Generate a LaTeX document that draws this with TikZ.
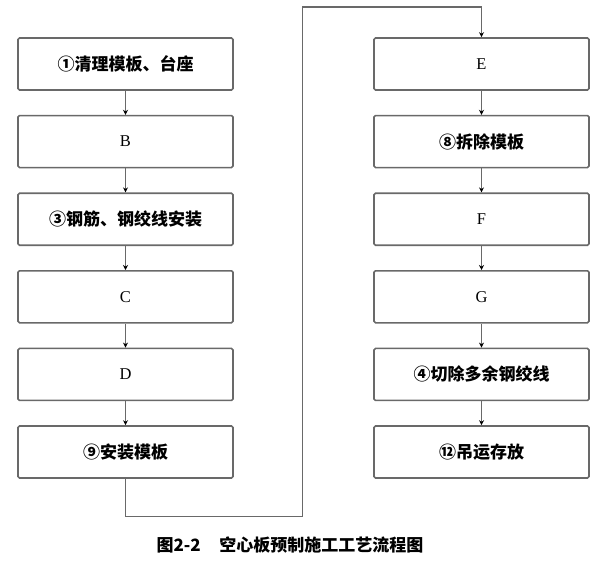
\documentclass[tikz,border=0pt]{standalone}
\usepackage{fontspec}
\setmainfont{Liberation Serif}
\newfontfamily\cjk{Noto Sans CJK SC}
\usetikzlibrary{arrows.meta,positioning}
\definecolor{cinzaLinha}{RGB}{105,105,105}
\tikzset{
  etapa/.style={rectangle, draw=cinzaLinha, line width=1.6pt, fill=white,
                rounded corners=1.5pt, minimum width=215pt, minimum height=52pt,
                align=center, font=\fontsize{17}{20}\selectfont\cjk\bfseries},
  letra/.style={etapa, font=\fontsize{16.5}{20}\selectfont},
  seta/.style={-{Stealth[length=5pt,width=5pt,black]}, line width=1.3pt, cinzaLinha},
}

\begin{document}
\begin{tikzpicture}[x=1pt,y=1pt,node distance=24pt]
  \useasboundingbox (0,0) rectangle (607,-572);
  % coluna da esquerda
  \node[etapa] (limpeza) at (125.5,-64) {①清理模板、台座};
  \node[letra, below=of limpeza] (b) {B};
  \node[etapa, below=of b] (armadura) {③钢筋、钢绞线安装};
  \node[letra, below=of armadura] (c) {C};
  \node[letra, below=of c] (d) {D};
  \node[etapa, below=of d] (montagem) {⑨安装模板};
  % coluna da direita
  \node[letra] (e) at (481.5,-64) {E};
  \node[etapa, below=of e] (desforma) {⑧拆除模板};
  \node[letra, below=of desforma] (f) {F};
  \node[letra, below=of f] (g) {G};
  \node[etapa, below=of g] (corte) {④切除多余钢绞线};
  \node[etapa, below=of corte] (estoque) {⑫吊运存放};
  \node[font=\fontsize{17}{20}\selectfont\cjk\bfseries] (legenda) at (290,-545)
       {图2-2\hspace{1.1em}空心板预制施工工艺流程图};
  \draw[seta] (limpeza) -- (b);
  \draw[seta] (b) -- (armadura);
  \draw[seta] (armadura) -- (c);
  \draw[seta] (c) -- (d);
  \draw[seta] (d) -- (montagem);
  % passagem para a segunda coluna
  \coordinate (desvio) at (302.5,-7);
  \draw[seta] (montagem.south) -- ++(0,-38) -| (desvio) -| (e.north);
  \draw[seta] (e) -- (desforma);
  \draw[seta] (desforma) -- (f);
  \draw[seta] (f) -- (g);
  \draw[seta] (g) -- (corte);
  \draw[seta] (corte) -- (estoque);
\end{tikzpicture}
\end{document}
